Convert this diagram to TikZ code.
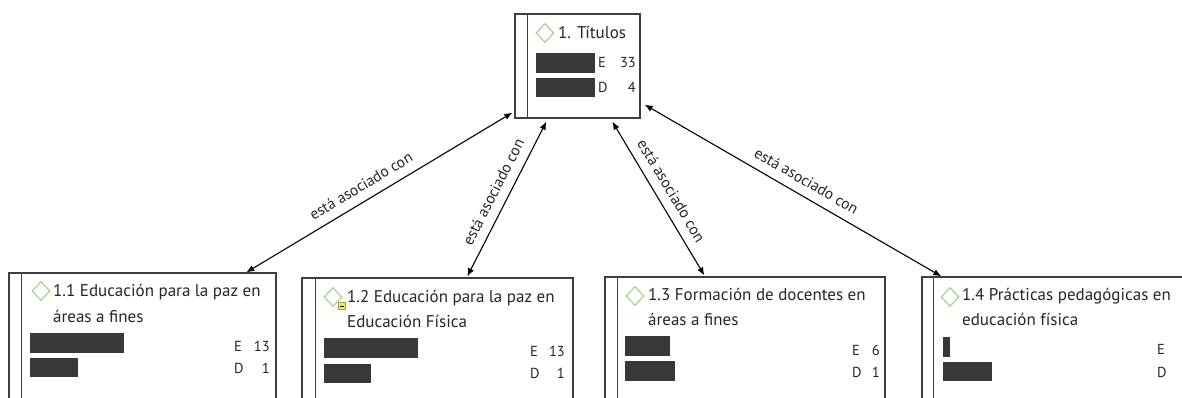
\documentclass[tikz,border=0pt]{standalone}
\usepackage{fontspec}
\setmainfont{PT Sans}
\usetikzlibrary{shapes.geometric,arrows.meta}
\definecolor{boxline}{HTML}{3F3F3F}
\definecolor{barc}{HTML}{383838}
\definecolor{txt}{HTML}{262626}
\definecolor{gem}{HTML}{A9D18E}
\definecolor{memo}{HTML}{F2E85A}
\tikzset{
  box/.style={draw=boxline, line width=1.3pt, inner sep=0pt},
  sep/.style={draw=boxline, line width=1.3pt},
  ttl/.style={anchor=base west, inner sep=0pt, text=txt, font=\fontsize{17}{20}\selectfont},
  cnt/.style={anchor=base west, inner sep=0pt, text=txt, font=\fontsize{14.5}{17}\selectfont},
  num/.style={anchor=base east, inner sep=0pt, text=txt, font=\fontsize{14.5}{17}\selectfont},
  gemst/.style={diamond, draw=gem, line width=1.2pt, minimum width=18pt, minimum height=19pt, inner sep=0pt},
  bar/.style={fill=barc},
  rel/.style={draw=black, line width=1.1pt, {Latex[length=8pt,width=6.5pt]}-{Latex[length=8pt,width=6.5pt]}},
  lbl/.style={sloped, above=8pt, inner sep=1pt, text=txt, font=\fontsize{15.5}{18}\selectfont}
}
\begin{document}
\begin{tikzpicture}[x=1pt,y=-1pt]
\useasboundingbox (0,0) rectangle (1182,398);
\clip (0,0) rectangle (1182,398);
\fill[white] (0,0) rectangle (1182,398);

% ---------- top box ----------
\node[box, minimum width=125pt, minimum height=104pt] (t) at (577.5,66) {};
\draw[sep] ([xshift=13pt]t.north west) -- ([xshift=13pt]t.south west);
\node[gemst] (tg) at (545,33) {};
\node[ttl] (tt) at (558,39) {1. Títulos};
\fill[bar] (536,53) rectangle (595,73);
\fill[bar] (536,78) rectangle (595,97);
\node[cnt] (tE) at (598,68) {E};
\node[num] (tEn) at (636,68) {33};
\node[cnt] (tD) at (598,93) {D};
\node[num] (tDn) at (636,93) {4};

% ---------- box 1.1 ----------
\node[box, minimum width=267pt, minimum height=150pt] (b1) at (142.5,348) {};
\draw[sep] ([xshift=13pt]b1.north west) -- ([xshift=13pt]b1.south west);
\node[gemst] (g1) at (41,291) {};
\node[ttl] (t1a) at (53,296) {1.1 Educación para la paz en};
\node[ttl] (t1b) at (53,322) {áreas a fines};
\fill[bar] (30,333) rectangle (124,353);
\fill[bar] (30,358) rectangle (78,377);
\node[cnt] (e1) at (234,351) {E};
\node[num] (e1n) at (270,351) {13};
\node[cnt] (d1) at (234,373) {D};
\node[num] (d1n) at (270,373) {1};

% ---------- box 1.2 ----------
\node[box, minimum width=271pt, minimum height=150pt] (b2) at (437.5,353) {};
\draw[sep] ([xshift=14pt]b2.north west) -- ([xshift=14pt]b2.south west);
\node[gemst] (g2) at (333,297) {};
\node[fill=memo, draw=memo!70!black, line width=0.4pt, minimum width=7pt, minimum height=7pt, inner sep=0pt] (m2) at (342,306) {};
\draw[black, line width=1pt] ([xshift=-2pt]m2.center) -- ([xshift=2pt]m2.center);
\node[ttl] (t2a) at (347,302) {1.2 Educación para la paz en};
\node[ttl] (t2b) at (347,327) {Educación Física};
\fill[bar] (324,338) rectangle (418,358);
\fill[bar] (324,364) rectangle (371,383);
\node[cnt] (e2) at (530,356) {E};
\node[num] (e2n) at (565,356) {13};
\node[cnt] (d2) at (530,378) {D};
\node[num] (d2n) at (565,378) {1};

% ---------- box 1.3 ----------
\node[box, minimum width=280pt, minimum height=150pt] (b3) at (745,352) {};
\draw[sep] ([xshift=13pt]b3.north west) -- ([xshift=13pt]b3.south west);
\node[gemst] (g3) at (635,296) {};
\node[ttl] (t3a) at (648,300) {1.3 Formación de docentes en};
\node[ttl] (t3b) at (648,325) {áreas a fines};
\fill[bar] (625,336) rectangle (670,356);
\fill[bar] (625,361) rectangle (675,381);
\node[cnt] (e3) at (852,355) {E};
\node[num] (e3n) at (880,355) {6};
\node[cnt] (d3) at (852,377) {D};
\node[num] (d3n) at (880,377) {1};

% ---------- box 1.4 ----------
\node[box, minimum width=318pt, minimum height=150pt] (b4) at (1081,352) {};
\draw[sep] ([xshift=12pt]b4.north west) -- ([xshift=12pt]b4.south west);
\node[gemst] (g4) at (950,297) {};
\node[ttl] (t4a) at (962,300) {1.4 Prácticas pedagógicas en};
\node[ttl] (t4b) at (962,325) {educación física};
\fill[bar] (943,337) rectangle (950,357);
\fill[bar] (943,362) rectangle (992,381);
\node[cnt] (e4) at (1157,354) {E};
\node[cnt] (d4) at (1157,377) {D};

% ---------- connectors ----------
\draw[rel] ([xshift=-2pt,yshift=6pt]t.south west) -- node[lbl, pos=0.54] {está asociado con} ([xshift=238pt]b1.north west);
\draw[rel] ([xshift=32pt,yshift=-3pt]t.south west) -- node[lbl, pos=0.5] {está asociado con} ([xshift=166pt,yshift=1pt]b2.north west);
\draw[rel] ([xshift=98pt,yshift=-3pt]t.south west) -- node[lbl, pos=0.5] {está asociado con} ([xshift=100pt,yshift=1pt]b3.north west);
\draw[rel] ([xshift=4pt,yshift=14pt]t.south east) -- node[lbl, pos=0.52] {está asociado con} ([xshift=20pt]b4.north west);
\end{tikzpicture}
\end{document}
